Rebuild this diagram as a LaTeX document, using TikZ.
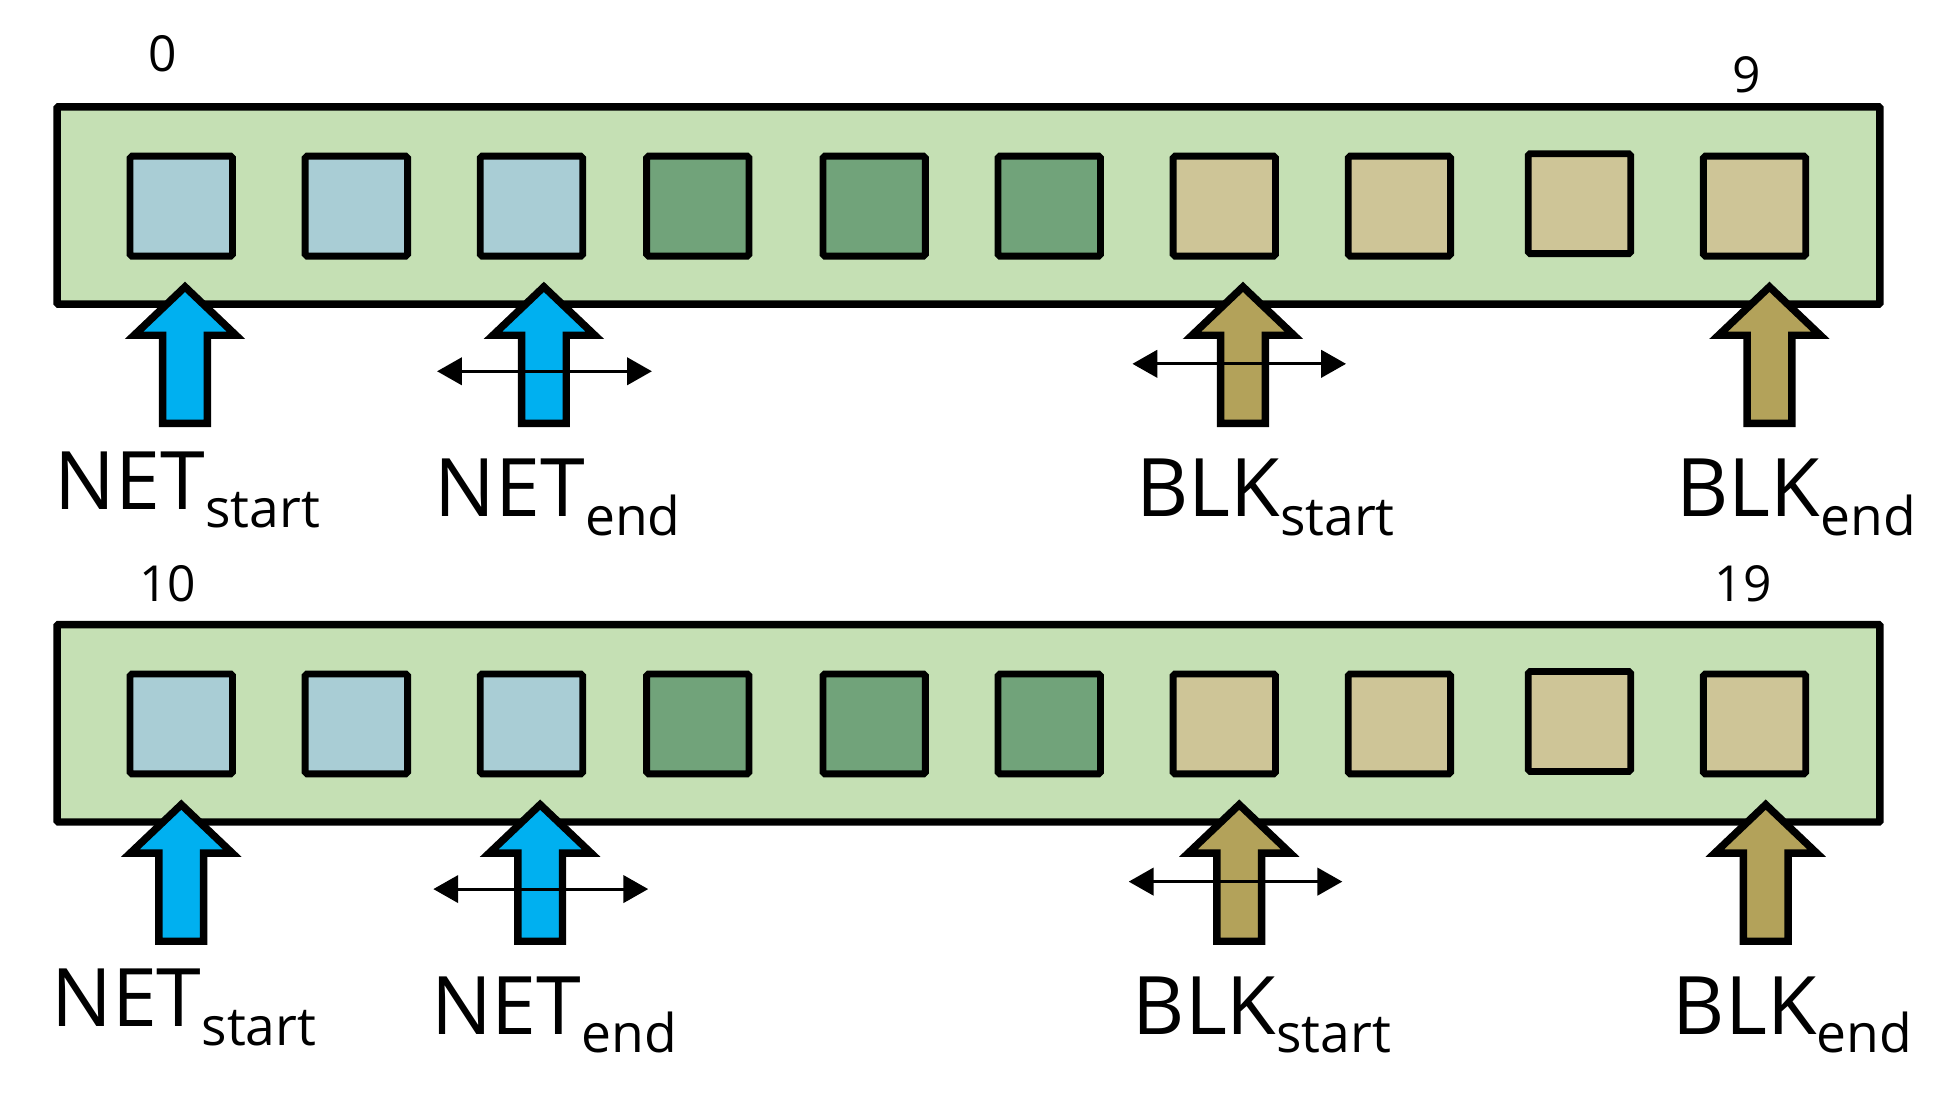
\documentclass[tikz,border=0pt]{standalone}
\usepackage{fontspec}
\setmainfont{Open Sans}
\usetikzlibrary{arrows.meta}
\definecolor{barfill}{HTML}{C5E0B4}
\definecolor{cellblue}{HTML}{A9CDD5}
\definecolor{cellgreen}{HTML}{71A37A}
\definecolor{celltan}{HTML}{CEC597}
\definecolor{arrblue}{HTML}{00B0F0}
\definecolor{arrbrown}{HTML}{B3A25A}
\newcommand{\sublbl}[1]{{\fontsize{43}{47}\selectfont\raisebox{-15pt}{#1}}}
\newcommand{\uparr}[3]{%
  \draw[line width=6pt, miter limit=10, fill=#3] (#1,#2) -- ++(41,39) -- ++(-23,0) -- ++(0,71) -- ++(-36,0) -- ++(0,-71) -- ++(-23,0) -- cycle;}
\tikzset{
  barbox/.style={draw, line width=6pt, fill=barfill, minimum width=1468pt, minimum height=159pt, inner sep=0pt, rounded corners=1pt},
  cell/.style={draw, line width=5.5pt, minimum width=82.5pt, minimum height=80.5pt, inner sep=0pt, rounded corners=1.5pt},
  lab/.style={inner sep=0pt, anchor=base west, font=\fontsize{65}{72}\selectfont},
  num/.style={inner sep=0pt, font=\fontsize{40}{44}\selectfont},
  dbl/.style={line width=2.5pt, {Triangle[length=20pt,width=22pt]}-{Triangle[length=20pt,width=22pt]}}
}
\begin{document}
\begin{tikzpicture}[x=1pt,y=-1pt]
\useasboundingbox (0,0) rectangle (1568,889);
\foreach \r/\dy/\dx in {1/0/0, 2/417/-3}{
  \node[barbox] (bar\r) at (780,{165.5+\dy}) {};
  \node[cell, fill=cellblue]  (c\r-1) at (146,{166+\dy}) {};
  \node[cell, fill=cellblue]  (c\r-2) at (287,{166+\dy}) {};
  \node[cell, fill=cellblue]  (c\r-3) at (428,{166+\dy}) {};
  \node[cell, fill=cellgreen] (c\r-4) at (562,{166+\dy}) {};
  \node[cell, fill=cellgreen] (c\r-5) at (704,{166+\dy}) {};
  \node[cell, fill=cellgreen] (c\r-6) at (845,{166+\dy}) {};
  \node[cell, fill=celltan]   (c\r-7) at (986,{166+\dy}) {};
  \node[cell, fill=celltan]   (c\r-8) at (1127,{166+\dy}) {};
  \node[cell, fill=celltan]   (c\r-9) at (1272,{164+\dy}) {};
  \node[cell, fill=celltan]   (c\r-10) at (1413,{166+\dy}) {};
  \uparr{149+\dx}{231+\dy}{arrblue}
  \uparr{438+\dx}{231+\dy}{arrblue}
  \uparr{1001+\dx}{231+\dy}{arrbrown}
  \uparr{1425+\dx}{231+\dy}{arrbrown}
  \coordinate (la\r) at ({352+\dx},{299+\dy});
  \coordinate (lb\r) at ({525+\dx},{299+\dy});
  \coordinate (ma\r) at ({912+\dx},{293+\dy});
  \coordinate (mb\r) at ({1084+\dx},{293+\dy});
  \draw[dbl] (la\r) -- (lb\r);
  \draw[dbl] (ma\r) -- (mb\r);
  \node[lab] (ns\r) at ({44+\dx},{410+\dy}) {NET\sublbl{start}};
  \node[lab] (ne\r) at ({350+\dx},{416+\dy}) {NET\sublbl{end}};
  \node[lab] (bs\r) at ({915+\dx},{416+\dy}) {BLK\sublbl{start}};
  \node[lab] (be\r) at ({1350+\dx},{416+\dy}) {BLK\sublbl{end}};
}
\node[num] (n0) at (131,43) {0};
\node[num] (n9) at (1407,60) {9};
\node[num] (n10) at (135,470) {10};
\node[num] (n19) at (1404,470) {19};
\end{tikzpicture}
\end{document}
